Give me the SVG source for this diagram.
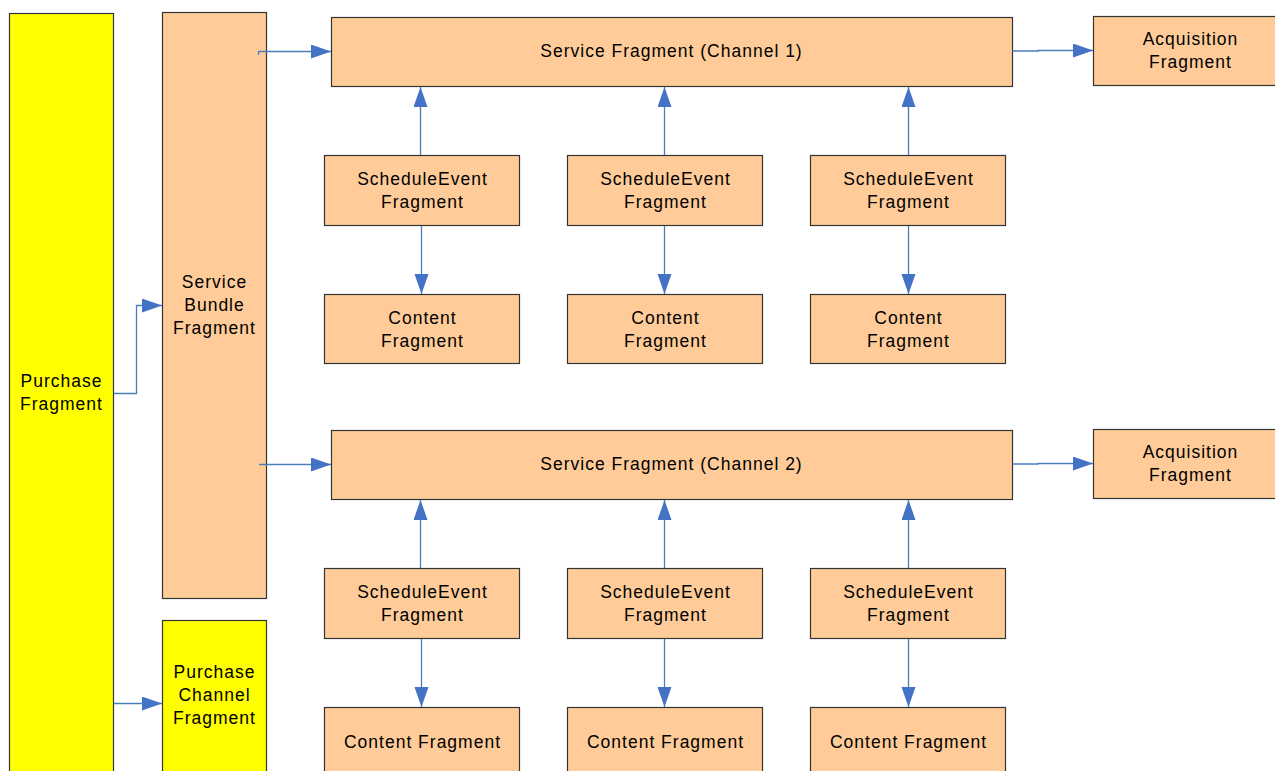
<svg xmlns="http://www.w3.org/2000/svg" width="1275" height="771" viewBox="0 0 1275 771">
<style>
.n{fill:#FFCC99;stroke:#333;stroke-width:1.2}
.y{fill:#FFFF00;stroke:#333;stroke-width:1.2}
text{font-family:"Liberation Sans",Arial,sans-serif;font-size:17.5px;letter-spacing:1px;fill:#000;text-anchor:middle}
.c{fill:none;stroke:#4A7EBB;stroke-width:1.3;marker-end:url(#ah)}
</style>
<defs>
<marker id="ah" markerUnits="userSpaceOnUse" markerWidth="22" markerHeight="16" refX="20" refY="7" orient="auto">
<path d="M0,0 L20,7 L0,14 Z" fill="#4472C4"/>
</marker>
</defs>
<rect width="1275" height="771" fill="#fff"/>
<g id="purchase"><rect class="y" x="9.5" y="13.5" width="104" height="770"/><text x="61.5" y="387">Purchase</text><text x="61.5" y="410">Fragment</text></g>
<g id="bundle"><rect class="n" x="162.5" y="12.5" width="104" height="586"/><text x="214.5" y="288">Service</text><text x="214.5" y="311">Bundle</text><text x="214.5" y="334">Fragment</text></g>
<g id="pchannel"><rect class="y" x="162.5" y="620.5" width="104" height="170"/><text x="214.5" y="678">Purchase</text><text x="214.5" y="701">Channel</text><text x="214.5" y="724">Fragment</text></g>
<g id="svc1"><rect class="n" x="331.5" y="17.5" width="681" height="69"/><text x="671.5" y="57">Service Fragment (Channel 1)</text></g>
<g id="acq1"><rect class="n" x="1093.5" y="16.5" width="200" height="69"/><text x="1190.5" y="45">Acquisition</text><text x="1190.5" y="68">Fragment</text></g>
<g id="svc2"><rect class="n" x="331.5" y="430.5" width="681" height="69"/><text x="671.5" y="470">Service Fragment (Channel 2)</text></g>
<g id="acq2"><rect class="n" x="1093.5" y="429.5" width="200" height="69"/><text x="1190.5" y="458">Acquisition</text><text x="1190.5" y="481">Fragment</text></g>
<g id="se1a"><rect class="n" x="324.5" y="155.5" width="195" height="70"/><text x="422.5" y="185">ScheduleEvent</text><text x="422.5" y="208">Fragment</text></g>
<g id="se1b"><rect class="n" x="567.5" y="155.5" width="195" height="70"/><text x="665.5" y="185">ScheduleEvent</text><text x="665.5" y="208">Fragment</text></g>
<g id="se1c"><rect class="n" x="810.5" y="155.5" width="195" height="70"/><text x="908.5" y="185">ScheduleEvent</text><text x="908.5" y="208">Fragment</text></g>
<g id="ct1a"><rect class="n" x="324.5" y="294.5" width="195" height="69"/><text x="422.5" y="324">Content</text><text x="422.5" y="347">Fragment</text></g>
<g id="ct1b"><rect class="n" x="567.5" y="294.5" width="195" height="69"/><text x="665.5" y="324">Content</text><text x="665.5" y="347">Fragment</text></g>
<g id="ct1c"><rect class="n" x="810.5" y="294.5" width="195" height="69"/><text x="908.5" y="324">Content</text><text x="908.5" y="347">Fragment</text></g>
<g id="se2a"><rect class="n" x="324.5" y="568.5" width="195" height="70"/><text x="422.5" y="598">ScheduleEvent</text><text x="422.5" y="621">Fragment</text></g>
<g id="se2b"><rect class="n" x="567.5" y="568.5" width="195" height="70"/><text x="665.5" y="598">ScheduleEvent</text><text x="665.5" y="621">Fragment</text></g>
<g id="se2c"><rect class="n" x="810.5" y="568.5" width="195" height="70"/><text x="908.5" y="598">ScheduleEvent</text><text x="908.5" y="621">Fragment</text></g>
<g id="ct2a"><rect class="n" x="324.5" y="707.5" width="195" height="80"/><text x="422.5" y="748">Content Fragment</text></g>
<g id="ct2b"><rect class="n" x="567.5" y="707.5" width="195" height="80"/><text x="665.5" y="748">Content Fragment</text></g>
<g id="ct2c"><rect class="n" x="810.5" y="707.5" width="195" height="80"/><text x="908.5" y="748">Content Fragment</text></g>
<g id="connectors">
<path class="c" d="M113.5,393.5 H136.5 V305.5 H162"/>
<path class="c" d="M113.5,703.5 H162"/>
<path class="c" d="M258.5,55 V51.5 H331"/>
<path class="c" d="M259,464.5 H331"/>
<path class="c" d="M1012.5,51 H1038 V50.5 H1093"/>
<path class="c" d="M1012.5,464 H1038 V463.5 H1093"/>
<path class="c" d="M420.5,155 V87"/>
<path class="c" d="M664.5,155 V87"/>
<path class="c" d="M908.5,155 V87"/>
<path class="c" d="M421.5,226 V294"/>
<path class="c" d="M664.5,226 V294"/>
<path class="c" d="M908.5,226 V294"/>
<path class="c" d="M420.5,568 V500"/>
<path class="c" d="M664.5,568 V500"/>
<path class="c" d="M908.5,568 V500"/>
<path class="c" d="M421.5,639 V707"/>
<path class="c" d="M664.5,639 V707"/>
<path class="c" d="M908.5,639 V707"/>
</g>
</svg>
